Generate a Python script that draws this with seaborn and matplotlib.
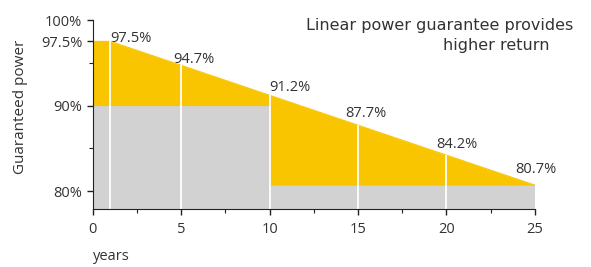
import numpy as np
import pandas as pd
import matplotlib
matplotlib.use("Agg")
import matplotlib.pyplot as plt
import seaborn as sns
from matplotlib.ticker import MultipleLocator

# guarantee data
years = [0, 1, 5, 10, 15, 20, 25]
linear_guarantee = [97.5, 97.5, 94.7, 91.2, 87.7, 84.2, 80.7]
step_years = [0, 10, 10, 25]
step_guarantee = [90, 90, 80.7, 80.7]
label_years = [1, 5, 10, 15, 20, 25]
label_text = ["97.5%", "94.7%", "91.2%", "87.7%", "84.2%", "80.7%"]
ytick_vals = [80, 90, 97.5, 100]
ytick_labels = ["80%", "90%", "97.5%", "100%"]

YELLOW = "#F8C500"
GRAY = "#D2D2D2"
TEXT = "#333333"

sns.set_style("ticks")
plt.rcParams["font.family"] = ["Open Sans", "DejaVu Sans"]

fig = plt.figure(figsize=(5.91, 2.67), dpi=100)
ax = fig.add_axes([0.157, 0.217, 0.748, 0.708])

ymin = 77.9
# common grid so both fills line up at the step
grid = np.array([0, 1, 5, 10, 10, 15, 20, 25], dtype=float)
lin_on_grid = np.interp(grid, years, linear_guarantee)
step_on_grid = np.array([step_guarantee[0]] * 4 + [step_guarantee[-1]] * 4)

ax.fill_between(grid, ymin, step_on_grid, color=GRAY, lw=0)
ax.fill_between(grid, step_on_grid, lin_on_grid, color=YELLOW, lw=0)
df = pd.DataFrame({"years": years, "power": linear_guarantee})
sns.lineplot(data=df, x="years", y="power", color=YELLOW, lw=0.8, ax=ax)

# white separators
tops = np.interp(label_years[:-1], years, linear_guarantee)
ax.vlines(label_years[:-1], ymin, tops, color="white", lw=1.3)

# value labels
dx = [0, -6, 0, -9, -7, -14]
dy = [-3, -1, 0, 3, 2, 5.5]
for yr, txt, ox, oy in zip(label_years, label_text, dx, dy):
    v = np.interp(yr, years, linear_guarantee)
    ax.annotate(txt, (yr, v), xytext=(ox, oy), textcoords="offset points",
                ha="left", va="bottom", fontsize=10.5, color=TEXT)

ax.set_xlim(0, 25)
ax.set_ylim(ymin, 100)
ax.set_xticks([0, 5, 10, 15, 20, 25])
ax.xaxis.set_minor_locator(MultipleLocator(2.5))
ax.set_yticks(ytick_vals)
ax.set_yticklabels(ytick_labels)
ax.set_yticks([85, 95], minor=True)
ax.tick_params(axis="both", which="major", length=4, width=1, colors="#222222",
               labelsize=10.5, labelcolor=TEXT)
ax.tick_params(axis="both", which="minor", length=3, width=0.8, colors="#222222")
ax.tick_params(axis="x", pad=5)
sns.despine(ax=ax)
ax.spines["left"].set_color("#222222")
ax.spines["bottom"].set_color("#222222")
ax.set_xlabel("")
ax.set_ylabel("")

fig.text(0.035, 0.60, "Guaranteed power", rotation=90, ha="center", va="center",
         fontsize=11, color=TEXT)
fig.text(0.157, 0.04, "years", ha="left", va="center", fontsize=10.5, color=TEXT)
fig.text(0.97, 0.905, "Linear power guarantee provides", ha="right", va="center",
         fontsize=11.5, color=TEXT, family="DejaVu Sans")
fig.text(0.929, 0.83, "higher return", ha="right", va="center",
         fontsize=11.5, color=TEXT, family="DejaVu Sans")

fig.savefig("out.png", dpi=100)
